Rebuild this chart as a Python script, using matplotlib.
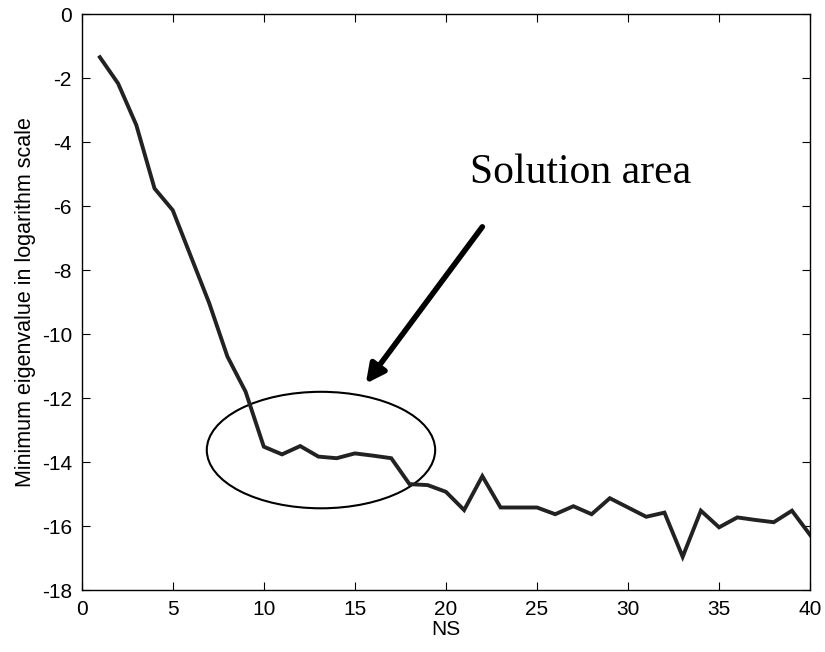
import numpy as np
import matplotlib
matplotlib.use("Agg")
import matplotlib.pyplot as plt
import matplotlib.patches as patches

# minimum eigenvalue (log scale) vs number of samples NS
ns = np.arange(1, 41)
min_eig = [-1.35, -2.17, -3.47, -5.45, -6.13, -7.58, -9.03, -10.7, -11.8, -13.52,
           -13.76, -13.5, -13.83, -13.88, -13.73, -13.8, -13.88, -14.69, -14.72, -14.93,
           -15.5, -14.44, -15.42, -15.42, -15.42, -15.63, -15.38, -15.63, -15.13, -15.42,
           -15.71, -15.58, -16.96, -15.52, -16.04, -15.73, -15.81, -15.88, -15.52, -16.28]

xticks = list(range(0, 41, 5))
yticks = list(range(-18, 1, 2))

plt.rcParams['font.family'] = ['Liberation Sans', 'DejaVu Sans']
plt.rcParams['axes.unicode_minus'] = False

fig = plt.figure(figsize=(8.25, 6.52), dpi=100)
ax = fig.add_axes([0.099, 0.095, 0.883, 0.8835])

ax.plot(ns, min_eig, color='#222222', linewidth=2.8, solid_joinstyle='miter')

ax.set_xlim(0, 40)
ax.set_ylim(-18, 0)
ax.set_xticks(xticks)
ax.set_yticks(yticks)
ax.tick_params(direction='in', length=6, width=0.8, top=True, right=True,
               labelsize=15)
ax.tick_params(axis='x', pad=7)
ax.tick_params(axis='y', pad=7)
for s in ax.spines.values():
    s.set_linewidth(1.0)

ax.set_xlabel('NS', fontsize=15, labelpad=1)
ax.set_ylabel('Minimum eigenvalue in logarithm scale', fontsize=15.5, labelpad=4)

# circled region and annotation
ell = patches.Ellipse((13.14, -13.625), 12.54, 3.64, fill=False,
                      edgecolor='black', linewidth=1.5)
ax.add_patch(ell)
ax.annotate('', xy=(15.6, -11.55), xytext=(22.0, -6.65),
            arrowprops=dict(arrowstyle='-|>', color='black', lw=4,
                            mutation_scale=28, shrinkA=0, shrinkB=0))
ax.text(21.3, -5.27, 'Solution area', family='Liberation Serif', fontsize=30,
        ha='left', va='baseline')

fig.savefig('out.png', dpi=100)
